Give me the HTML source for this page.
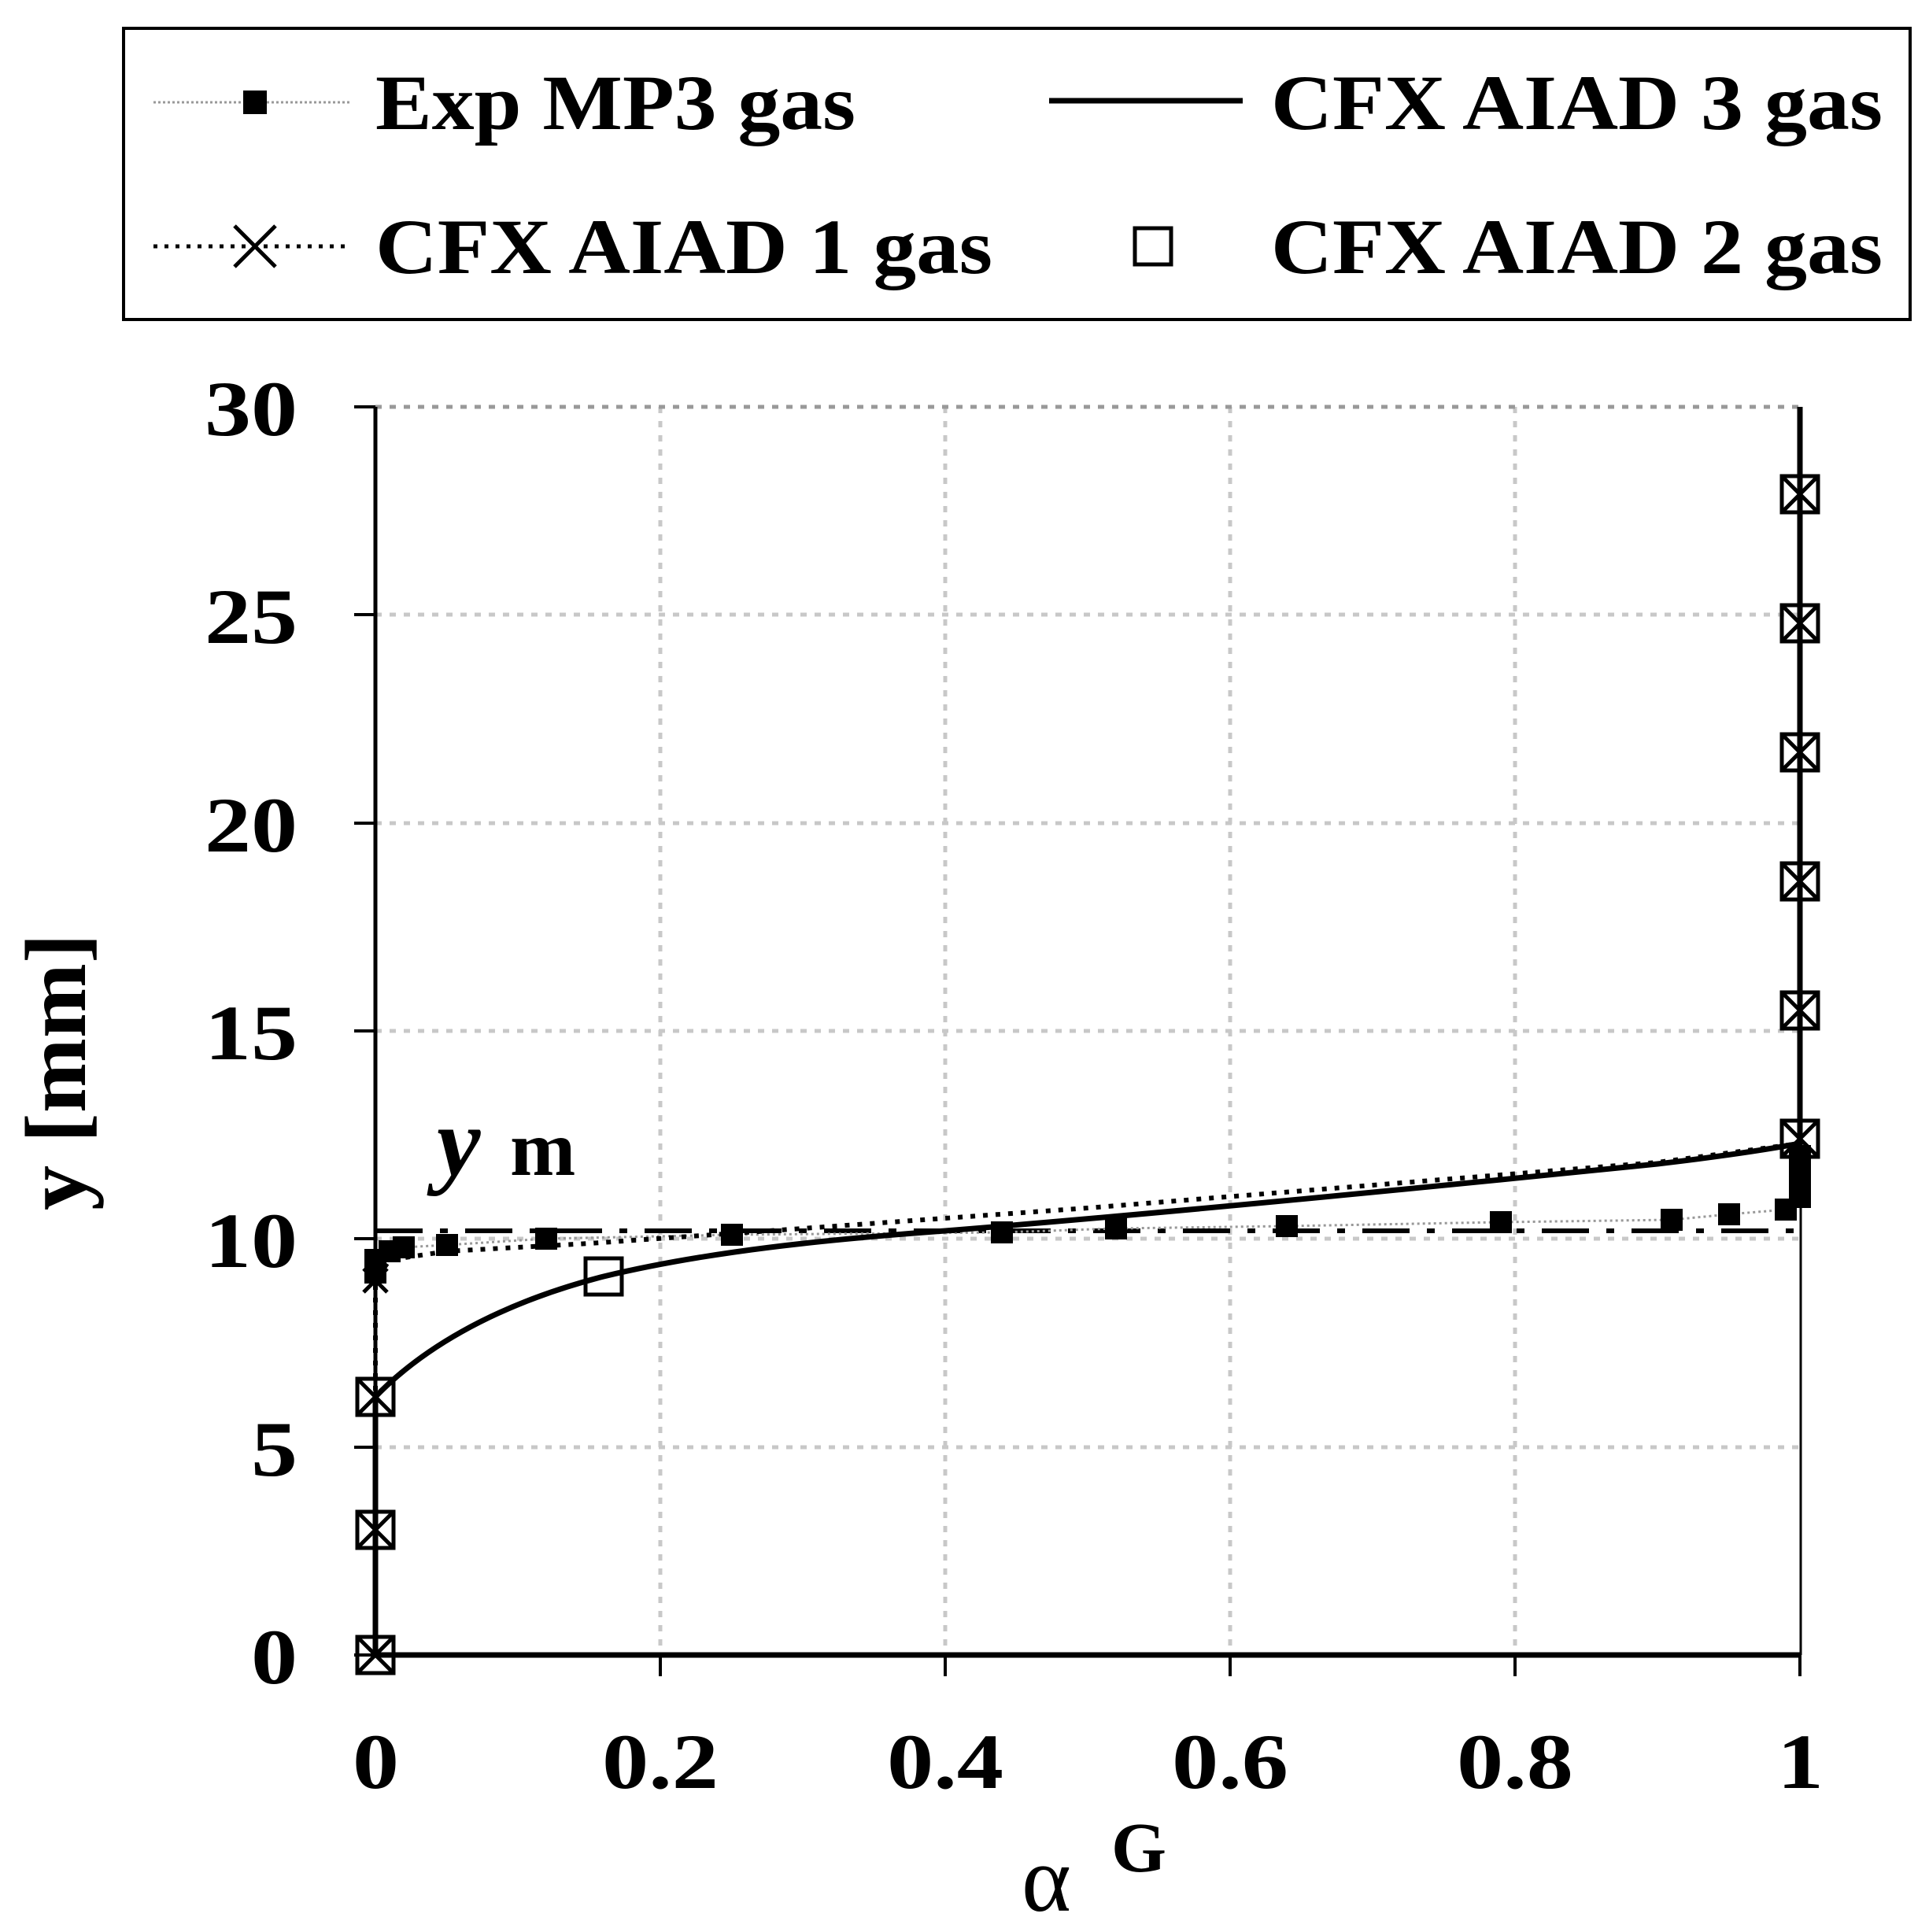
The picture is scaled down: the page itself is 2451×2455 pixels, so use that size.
<!DOCTYPE html>
<html><head><meta charset="utf-8"><style>
html,body{margin:0;padding:0;background:#fff;}
svg{display:block;}
text{font-family:"Liberation Serif",serif;font-weight:bold;fill:#000;}
</style></head><body>
<svg width="2451" height="2455" viewBox="0 0 2451 2455" xmlns="http://www.w3.org/2000/svg">
<!-- Legend -->
<rect x="157" y="36" width="2270" height="370" fill="#fff" stroke="#000" stroke-width="4"/>
<line x1="195" y1="130" x2="446" y2="130" stroke="#999" stroke-width="3" stroke-dasharray="3,3"/>
<rect x="309" y="115" width="30" height="30" fill="#000"/>
<text x="477" y="164" font-size="100" textLength="610" lengthAdjust="spacingAndGlyphs">Exp MP3 gas</text>
<line x1="1333" y1="128" x2="1579" y2="128" stroke="#000" stroke-width="7"/>
<text x="1615" y="164" font-size="100" textLength="777" lengthAdjust="spacingAndGlyphs">CFX AIAD 3 gas</text>
<line x1="195" y1="313" x2="446" y2="313" stroke="#000" stroke-width="5" stroke-dasharray="5,9"/>
<path d="M298 287 L350 339 M350 287 L298 339" stroke="#000" stroke-width="5"/>
<text x="477" y="347" font-size="100" textLength="784" lengthAdjust="spacingAndGlyphs">CFX AIAD 1 gas</text>
<rect x="1442" y="290" width="46" height="46" fill="#fff" stroke="#000" stroke-width="5"/>
<text x="1615" y="347" font-size="100" textLength="777" lengthAdjust="spacingAndGlyphs">CFX AIAD 2 gas</text>

<!-- Grid -->
<g stroke="#c8c8c8" stroke-width="5" stroke-dasharray="8,10">
<line x1="839" y1="517" x2="839" y2="2103"/>
<line x1="1201" y1="517" x2="1201" y2="2103"/>
<line x1="1563" y1="517" x2="1563" y2="2103"/>
<line x1="1925" y1="517" x2="1925" y2="2103"/>
<line x1="477" y1="1839" x2="2287" y2="1839"/>
<line x1="477" y1="1574" x2="2287" y2="1574"/>
<line x1="477" y1="1310" x2="2287" y2="1310"/>
<line x1="477" y1="1046" x2="2287" y2="1046"/>
<line x1="477" y1="781" x2="2287" y2="781"/>
<line x1="477" y1="517" x2="2287" y2="517" stroke="#999"/>
</g>

<!-- Axes -->
<line x1="477" y1="517" x2="477" y2="2103" stroke="#000" stroke-width="5"/>
<line x1="477" y1="2103" x2="2289" y2="2103" stroke="#000" stroke-width="7"/>
<line x1="2288" y1="517" x2="2288" y2="2103" stroke="#000" stroke-width="3"/>
<g stroke="#000" stroke-width="4">
<line x1="450" y1="517" x2="477" y2="517"/><line x1="450" y1="781" x2="477" y2="781"/>
<line x1="450" y1="1046" x2="477" y2="1046"/><line x1="450" y1="1310" x2="477" y2="1310"/>
<line x1="450" y1="1574" x2="477" y2="1574"/><line x1="450" y1="1839" x2="477" y2="1839"/>
<line x1="450" y1="2103" x2="477" y2="2103"/>
<line x1="839" y1="2103" x2="839" y2="2130"/><line x1="1201" y1="2103" x2="1201" y2="2130"/>
<line x1="1563" y1="2103" x2="1563" y2="2130"/><line x1="1925" y1="2103" x2="1925" y2="2130"/>
<line x1="2287" y1="2103" x2="2287" y2="2130"/>
</g>

<!-- Tick labels -->
<g font-size="100" text-anchor="end">
<text x="378" y="553" textLength="118" lengthAdjust="spacingAndGlyphs">30</text>
<text x="378" y="817" textLength="118" lengthAdjust="spacingAndGlyphs">25</text>
<text x="378" y="1082" textLength="118" lengthAdjust="spacingAndGlyphs">20</text>
<text x="378" y="1346" textLength="118" lengthAdjust="spacingAndGlyphs">15</text>
<text x="378" y="1610" textLength="118" lengthAdjust="spacingAndGlyphs">10</text>
<text x="378" y="1875" textLength="59" lengthAdjust="spacingAndGlyphs">5</text>
<text x="378" y="2139" textLength="59" lengthAdjust="spacingAndGlyphs">0</text>
</g>
<g font-size="100">
<text x="448" y="2272" textLength="59" lengthAdjust="spacingAndGlyphs">0</text>
<text x="765" y="2272" textLength="148" lengthAdjust="spacingAndGlyphs">0.2</text>
<text x="1127" y="2272" textLength="148" lengthAdjust="spacingAndGlyphs">0.4</text>
<text x="1489" y="2272" textLength="148" lengthAdjust="spacingAndGlyphs">0.6</text>
<text x="1851" y="2272" textLength="148" lengthAdjust="spacingAndGlyphs">0.8</text>
<text x="2258" y="2272" textLength="59" lengthAdjust="spacingAndGlyphs">1</text>
</g>
<text transform="translate(108,1362) rotate(-90)" font-size="110" text-anchor="middle" textLength="352" lengthAdjust="spacingAndGlyphs">y [mm]</text>
<text x="1298" y="2428" font-size="120" style="font-weight:normal">α</text>
<text x="1412" y="2378" font-size="90">G</text>
<text x="555" y="1493" font-size="125" font-style="italic">y</text>
<text x="648" y="1493" font-size="100">m</text>

<!-- Dash-dot line -->
<line x1="477" y1="1564" x2="2287" y2="1564" stroke="#000" stroke-width="6" stroke-dasharray="60,22,10,22"/>

<!-- Exp line -->
<polyline fill="none" stroke="#999" stroke-width="3" stroke-dasharray="3,4" points="477,1617 477,1601 495,1590 513,1585 568,1582 694,1574 930,1569 1273,1566 1418,1561 1635,1558 1907,1553 2124,1550 2197,1543 2269,1537 2287,1521 2287,1495 2287,1469"/>

<!-- AIAD1 dotted -->
<polyline fill="none" stroke="#000" stroke-width="6" stroke-dasharray="6,10" points="477,2103 477,1627 495,1601 568,1590 749,1580 1020,1561 1382,1535 1744,1506 2106,1477 2287,1453 2287,517"/>

<!-- AIAD3 solid -->
<path fill="none" stroke="#000" stroke-width="7" d="M477,2103 L477,1775 C530,1720 620,1660 767,1622 C900,1590 1050,1575 1201,1564 C1500,1540 1900,1500 2106,1479 C2200,1468 2260,1458 2287,1453 L2287,517"/>

<!-- Exp markers -->
<g fill="#000">
<rect x="463" y="1603" width="28" height="28"/><rect x="463" y="1587" width="28" height="28"/>
<rect x="481" y="1576" width="28" height="28"/><rect x="499" y="1571" width="28" height="28"/>
<rect x="554" y="1568" width="28" height="28"/><rect x="680" y="1560" width="28" height="28"/>
<rect x="916" y="1555" width="28" height="28"/><rect x="1259" y="1552" width="28" height="28"/>
<rect x="1404" y="1547" width="28" height="28"/><rect x="1621" y="1544" width="28" height="28"/>
<rect x="1893" y="1539" width="28" height="28"/><rect x="2110" y="1536" width="28" height="28"/>
<rect x="2183" y="1529" width="28" height="28"/><rect x="2255" y="1523" width="28" height="28"/>
<rect x="2273" y="1507" width="28" height="28"/><rect x="2273" y="1481" width="28" height="28"/>
<rect x="2273" y="1455" width="28" height="28"/>
</g>

<!-- AIAD2 squares + AIAD1 X -->
<g fill="none" stroke="#000" stroke-width="5">
<rect x="454" y="2080" width="46" height="46"/><rect x="454" y="1921" width="46" height="46"/>
<rect x="454" y="1752" width="46" height="46"/><rect x="744" y="1599" width="46" height="46"/>
<rect x="2264" y="1424" width="46" height="46"/><rect x="2264" y="1261" width="46" height="46"/>
<rect x="2264" y="1097" width="46" height="46"/><rect x="2264" y="933" width="46" height="46"/>
<rect x="2264" y="769" width="46" height="46"/><rect x="2264" y="605" width="46" height="46"/>
<path d="M454 2080l46 46M500 2080l-46 46 M454 1921l46 46M500 1921l-46 46 M454 1752l46 46M500 1752l-46 46 M462 1612l30 30M492 1612l-30 30 M2264 1424l46 46M2310 1424l-46 46 M2264 1261l46 46M2310 1261l-46 46 M2264 1097l46 46M2310 1097l-46 46 M2264 933l46 46M2310 933l-46 46 M2264 769l46 46M2310 769l-46 46 M2264 605l46 46M2310 605l-46 46"/>
</g>
</svg>
</body></html>
